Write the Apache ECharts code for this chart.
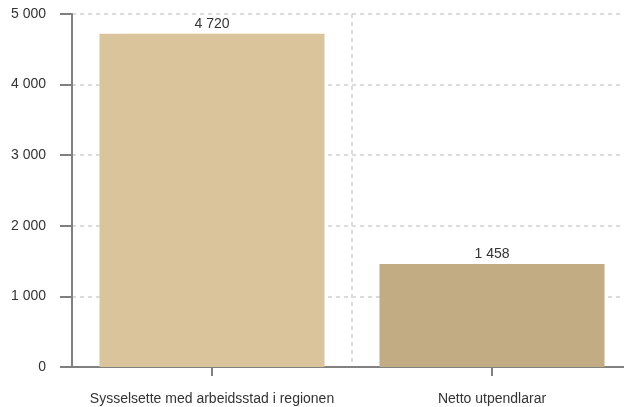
<!DOCTYPE html>
<html><head><meta charset="utf-8">
<script src="https://cdn.jsdelivr.net/npm/echarts@6/dist/echarts.min.js"></script>
<style>html,body{margin:0;padding:0;background:#fff;overflow:hidden}#c{width:624px;height:407px}</style>
</head><body><div id="c"></div>
<script>
const categories = ["Sysselsette med arbeidsstad i regionen", "Netto utpendlarar"];
const values = [4720, 1458];
const barColors = ["#D9C49C", "#C2AC84"];
const yTicks = [0, 1000, 2000, 3000, 4000, 5000];

function fmt(v){ return String(v).replace(/\B(?=(\d{3})+(?!\d))/g, " "); }

const chart = echarts.init(document.getElementById('c'), null, {renderer:'canvas'});
chart.setOption({
  animation:false,
  textStyle:{fontFamily:"Liberation Sans, Arial, sans-serif"},
  grid:{left:72, width:560, top:14, height:353, containLabel:false, outerBoundsMode:'none'},
  xAxis:{
    type:'category', data:categories,
    axisLine:{lineStyle:{color:'#808080', width:2}},
    axisTick:{show:true, alignWithLabel:true, length:9, lineStyle:{color:'#808080', width:2}},
    axisLabel:{color:'#333', fontSize:14, margin:25, interval:0},
    splitLine:{show:true, lineStyle:{color:'#dcdcdc', type:[4,4], width:2}}
  },
  yAxis:{
    type:'value', min:yTicks[0], max:yTicks[yTicks.length-1], interval:1000,
    axisLine:{show:true, lineStyle:{color:'#808080', width:2}},
    axisTick:{show:true, length:12, lineStyle:{color:'#808080', width:2}},
    axisLabel:{color:'#333', fontSize:14, margin:26, formatter:fmt},
    splitLine:{show:true, lineStyle:{color:'#dcdcdc', type:[4,4], width:2}}
  },
  series:[{
    type:'bar', barWidth:225,
    data: values.map((v,i)=>({value:v, itemStyle:{color:barColors[i]}})),
    label:{show:true, position:'top', distance:3, color:'#333', fontSize:14, formatter:p=>fmt(p.value)}
  }]
});
</script></body></html>
